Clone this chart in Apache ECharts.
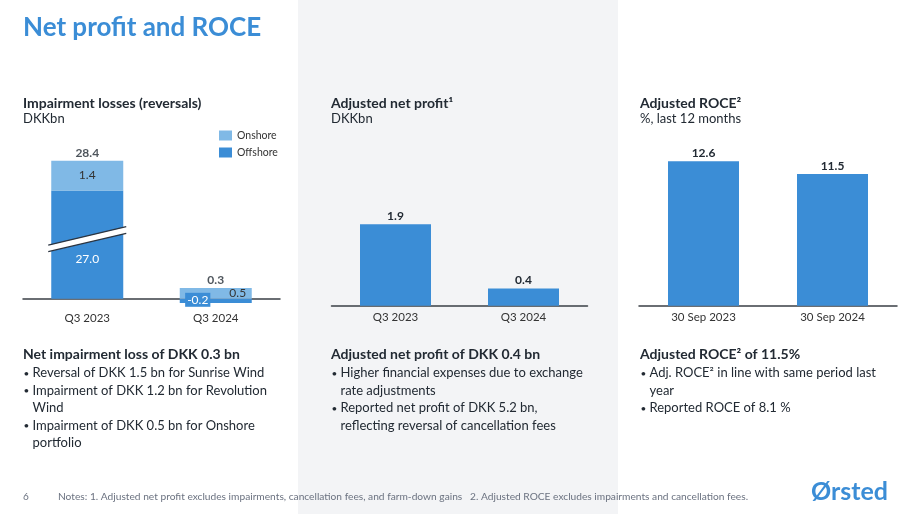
<!DOCTYPE html>
<html>
<head>
<meta charset="utf-8">
<script src="https://cdn.jsdelivr.net/npm/echarts@6/dist/echarts.min.js"></script>
<style>
html,body{margin:0;padding:0;background:#fff;}
#main{width:906px;height:514px;}
</style>
</head>
<body>
<div id="main"></div>
<script>
// ---- data ----
const impairCategories = ['Q3 2023', 'Q3 2024'];
const offshore = [27.0, -0.2];
const onshore = [1.4, 0.5];
const impairTotals = [28.4, 0.3];
const impairBreak = [2.8, 24.7];

const profitCategories = ['Q3 2023', 'Q3 2024'];
const adjNetProfit = [1.9, 0.4];

const roceCategories = ['30 Sep 2023', '30 Sep 2024'];
const adjRoce = [12.6, 11.5];

const leftBullets = [
  ['Reversal of DKK 1.5 bn for Sunrise Wind'],
  ['Impairment of DKK 1.2 bn for Revolution', 'Wind'],
  ['Impairment of DKK 0.5 bn for Onshore', 'portfolio']
];
const midBullets = [
  ['Higher financial expenses due to exchange', 'rate adjustments'],
  ['Reported net profit of DKK 5.2 bn,', 'reflecting reversal of cancellation fees']
];
const rightBullets = [
  ['Adj. ROCE² in line with same period last', 'year'],
  ['Reported ROCE of 8.1 %']
];

// ---- styles ----
const FONT = 'Lato, "Open Sans", sans-serif';
const BLUE = '#3b8dd6';
const LIGHT = '#80b9e6';
const DARK = '#222a33';
const AXIS = '#3a3f45';

const chart = echarts.init(document.getElementById('main'), null, {renderer: 'canvas'});

function txt(x, y, text, size, weight, color, extra) {
  return {
    type: 'text', x: x, y: y, z: 10,
    style: Object.assign({
      text: text, fill: color || DARK,
      font: (weight || 'normal') + ' ' + size + 'px ' + FONT,
      verticalAlign: 'middle', align: 'left'
    }, extra || {})
  };
}

function bulletBlock(x, y0, lines) {
  const out = [];
  let y = y0;
  lines.forEach(function (b) {
    b.forEach(function (line, j) {
      if (j === 0) out.push(txt(x + 0.5, y + 0.5, '•', 10, 'normal', DARK));
      out.push(txt(x + 9.5, y, line, 13, 'normal', DARK));
      y += 17.5;
    });
  });
  return out;
}

const posTop = offshore.map(function (v, i) {
  return Math.max(v, 0) + Math.max(onshore[i], 0);
});

const offLabel = [
  {show: true, position: 'inside', offset: [0, 15], color: '#fff', fontSize: 12, fontFamily: FONT},
  {show: true, position: 'inside', offset: [-18, -1], color: '#fff', fontSize: 12, fontFamily: FONT,
   backgroundColor: BLUE, padding: [1, 2]}
];
const onLabel = [
  {show: true, position: 'inside', offset: [0, 0], color: '#333', fontSize: 12, fontFamily: FONT},
  {show: true, position: 'inside', offset: [22, 0], color: '#333', fontSize: 12, fontFamily: FONT}
];

const graphics = [
  {type: 'rect', z: -10, shape: {x: 298, y: 0, width: 320, height: 514}, style: {fill: '#f3f4f6'}},
  txt(23, 28, 'Net profit and ROCE', 26, 'bold', BLUE),
  txt(23, 103, 'Impairment losses (reversals)', 14, 'bold'),
  txt(23, 119, 'DKKbn', 13, 'normal'),
  txt(331, 103, 'Adjusted net profit¹', 14, 'bold'),
  txt(331, 119, 'DKKbn', 13, 'normal'),
  txt(640, 103, 'Adjusted ROCE²', 14, 'bold'),
  txt(640, 119, '%, last 12 months', 13, 'normal'),
  txt(23, 354, 'Net impairment loss of DKK 0.3 bn', 14, 'bold'),
  txt(331, 354, 'Adjusted net profit of DKK 0.4 bn', 14, 'bold'),
  txt(640, 354, 'Adjusted ROCE² of 11.5%', 14, 'bold'),
  txt(23, 497, '6', 10, 'normal', '#6b7280'),
  txt(58, 497, 'Notes: 1. Adjusted net profit excludes impairments, cancellation fees, and farm-down gains   2. Adjusted ROCE excludes impairments and cancellation fees.', 10.2, 'normal', '#6b7280'),
  txt(811, 492, 'Ørsted', 25, 'bold', BLUE)
].concat(bulletBlock(23, 373, leftBullets))
 .concat(bulletBlock(331, 373, midBullets))
 .concat(bulletBlock(640, 373, rightBullets));

const catAxisBase = {
  type: 'category',
  axisTick: {show: false},
  axisLine: {show: true, onZero: true, lineStyle: {color: AXIS, width: 1.5}},
  axisLabel: {color: '#333', fontSize: 11.5, fontFamily: FONT}
};

const option = {
  animation: false,
  backgroundColor: 'transparent',
  textStyle: {fontFamily: FONT},
  graphic: graphics,
  legend: {
    data: ['Onshore', 'Offshore'],
    orient: 'vertical', left: 219, top: 130, itemGap: 6,
    itemWidth: 13, itemHeight: 10, icon: 'rect', padding: 0,
    textStyle: {fontSize: 10.5, color: '#333', fontFamily: FONT},
    selectedMode: false
  },
  grid: [
    {left: 23, width: 257, top: 160.7, height: 159.2},
    {left: 331.5, width: 256, top: 219.9, height: 85.8},
    {left: 639, width: 258, top: 156.7, height: 149}
  ],
  xAxis: [
    Object.assign({}, catAxisBase, {gridIndex: 0, data: impairCategories,
      axisLabel: Object.assign({}, catAxisBase.axisLabel, {margin: -8})}),
    Object.assign({}, catAxisBase, {gridIndex: 1, data: profitCategories,
      axisLabel: Object.assign({}, catAxisBase.axisLabel, {margin: 6})}),
    Object.assign({}, catAxisBase, {gridIndex: 2, data: roceCategories,
      axisLabel: Object.assign({}, catAxisBase.axisLabel, {margin: 6})})
  ],
  yAxis: [
    {type: 'value', gridIndex: 0, min: -1, max: 28.4, show: false,
     splitLine: {show: false},
     breaks: [{start: impairBreak[0], end: impairBreak[1], gap: 0}],
     breakArea: {show: false}},
    {type: 'value', gridIndex: 1, min: 0, max: 2, show: false, splitLine: {show: false}},
    {type: 'value', gridIndex: 2, min: 0, max: 13, show: false, splitLine: {show: false}}
  ],
  series: [
    {
      name: 'Offshore', type: 'bar', stack: 'imp', xAxisIndex: 0, yAxisIndex: 0,
      barWidth: 72, itemStyle: {color: BLUE},
      label: {formatter: function (p) { return p.value.toFixed(1); }},
      data: offshore.map(function (v, i) { return {value: v, label: offLabel[i]}; })
    },
    {
      name: 'Onshore', type: 'bar', stack: 'imp', xAxisIndex: 0, yAxisIndex: 0,
      barWidth: 72, itemStyle: {color: LIGHT},
      label: {formatter: function (p) { return p.value.toFixed(1); }},
      data: onshore.map(function (v, i) { return {value: v, label: onLabel[i]}; })
    },
    {
      name: 'Total', type: 'scatter', xAxisIndex: 0, yAxisIndex: 0, z: 5,
      symbolSize: 1, itemStyle: {color: 'rgba(0,0,0,0)'},
      label: {show: true, position: 'top', distance: 1, color: DARK, fontWeight: 'bold',
        fontSize: 12, fontFamily: FONT,
        formatter: function (p) { return impairTotals[p.dataIndex].toFixed(1); }},
      data: posTop
    },
    {
      name: 'Break', type: 'custom', xAxisIndex: 0, yAxisIndex: 0, z: 6,
      data: [[0, impairBreak[0]]],
      renderItem: function (params, api) {
        const p = api.coord([api.value(0), api.value(1)]);
        const hw = 39, dy = 9.2, t = 3.3;
        return {
          type: 'group',
          children: [
            {type: 'polygon', shape: {points: [
              [p[0] - hw, p[1] + dy - t], [p[0] + hw, p[1] - dy - t],
              [p[0] + hw, p[1] - dy + t], [p[0] - hw, p[1] + dy + t]]},
             style: {fill: '#fff'}},
            {type: 'line', shape: {x1: p[0] - hw, y1: p[1] + dy - t, x2: p[0] + hw, y2: p[1] - dy - t},
             style: {stroke: '#2b3440', lineWidth: 1.3}},
            {type: 'line', shape: {x1: p[0] - hw, y1: p[1] + dy + t, x2: p[0] + hw, y2: p[1] - dy + t},
             style: {stroke: '#2b3440', lineWidth: 1.3}}
          ]
        };
      }
    },
    {
      name: 'Adjusted net profit', type: 'bar', xAxisIndex: 1, yAxisIndex: 1,
      barWidth: 71, itemStyle: {color: BLUE},
      label: {show: true, position: 'top', distance: 2, color: DARK, fontWeight: 'bold',
        fontSize: 12, fontFamily: FONT, formatter: function (p) { return p.value.toFixed(1); }},
      data: adjNetProfit
    },
    {
      name: 'Adjusted ROCE', type: 'bar', xAxisIndex: 2, yAxisIndex: 2,
      barWidth: 71, itemStyle: {color: BLUE},
      label: {show: true, position: 'top', distance: 2, color: DARK, fontWeight: 'bold',
        fontSize: 12, fontFamily: FONT, formatter: function (p) { return p.value.toFixed(1); }},
      data: adjRoce
    }
  ]
};
chart.setOption(option);
</script>
</body>
</html>
